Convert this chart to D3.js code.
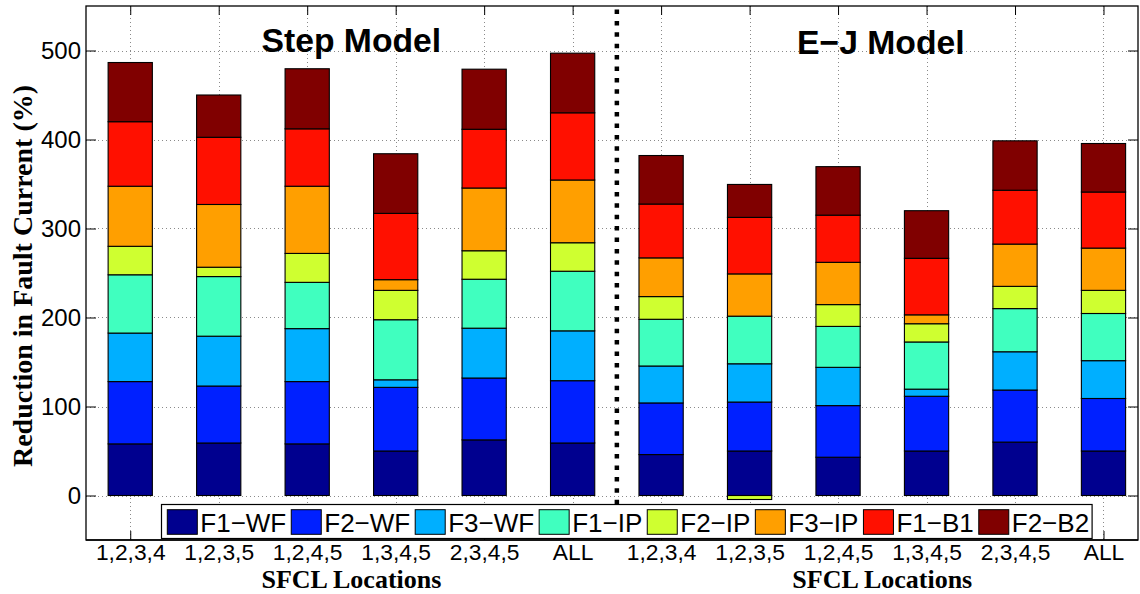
<!DOCTYPE html>
<html>
<head>
<meta charset="utf-8">
<script src="https://cdn.jsdelivr.net/npm/d3@7"></script>
<style>
  body { margin: 0; background: #fff; }
  svg { display: block; }
</style>
</head>
<body>
<script>
// ---------- DATA ----------
const categories = ["1,2,3,4","1,2,3,5","1,2,4,5","1,3,4,5","2,3,4,5","ALL",
                    "1,2,3,4","1,2,3,5","1,2,4,5","1,3,4,5","2,3,4,5","ALL"];
const seriesNames = ["F1\u2212WF","F2\u2212WF","F3\u2212WF","F1\u2212IP","F2\u2212IP","F3\u2212IP","F1\u2212B1","F2\u2212B2"];
const f1wf = [58, 59, 58, 50, 62.5, 59, 46, 50, 43, 50, 60, 50];
const f2wf = [70, 64, 70, 71.5, 69.5, 70, 58, 55, 58, 61.5, 58.5, 59];
const f3wf = [54.5, 56, 59.5, 8.5, 56, 56, 41.5, 43, 43, 8, 43, 42.5];
const f1ip = [65.5, 67, 52, 67.5, 55, 67, 52.5, 53.5, 46, 53, 48.5, 53];
const f2ip = [32, 10.5, 32.5, 33, 32, 32, 25.5, -4.5, 24.5, 20.5, 25, 26];
const f3ip = [67.5, 70.5, 75.5, 12, 70.5, 70.5, 43.5, 47.5, 47.5, 10, 47.5, 47.5];
const f1b1 = [72.5, 75.5, 64.5, 74.5, 66, 75.5, 60.5, 63.5, 53, 63.5, 60.5, 63];
const f2b2 = [66.5, 47.5, 67.5, 67, 67.5, 67, 54.5, 37, 54.5, 53.5, 55.5, 54.5];
const seriesValues = [f1wf, f2wf, f3wf, f1ip, f2ip, f3ip, f1b1, f2b2];
const yTicks = [0, 100, 200, 300, 400, 500];
const panelTitles = ["Step Model", "E\u2212J Model"];
const xLabel = "SFCL Locations";
const yLabel = "Reduction in Fault Current (%)";

// ---------- STYLE ----------
const colors = ["#00008F","#0020FF","#00AFFF","#40FFBF","#CFFF30","#FF9F00","#FF1000","#800000"];
const sans = "'Liberation Sans', Arial, Helvetica, sans-serif";
const serif = "'Liberation Serif', 'Times New Roman', serif";

const W = 1140, H = 594;
const L = 86, R = 1138, T = 6, B = 540;

const svg = d3.select("body").append("svg").attr("width", W).attr("height", H);

const x = d3.scaleLinear().domain([0.5, 12.39]).range([L, R]);
const y = d3.scaleLinear().domain([-50, 550]).range([B, T]);
const positions = d3.range(1, categories.length + 1);

// grid
const grid = svg.append("g").attr("stroke", "#8a8a8a").attr("stroke-width", 1).attr("stroke-dasharray", "1,3");
grid.selectAll("line.h").data(yTicks).join("line")
  .attr("x1", L).attr("x2", R).attr("y1", d => Math.round(y(d)) + 0.5).attr("y2", d => Math.round(y(d)) + 0.5);
grid.selectAll("line.v").data(positions).join("line")
  .attr("y1", T).attr("y2", B).attr("x1", d => Math.round(x(d)) + 0.5).attr("x2", d => Math.round(x(d)) + 0.5);

// stacked bars
const rows = categories.map((c, i) => {
  const r = { idx: i + 1, cat: c };
  seriesNames.forEach((s, j) => r[s] = seriesValues[j][i]);
  return r;
});
const stacked = d3.stack().keys(seriesNames).offset(d3.stackOffsetDiverging)(rows);
const bw = x(1.25) - x(0.75);
svg.append("g").selectAll("g").data(stacked).join("g")
  .attr("fill", (d, i) => colors[i])
  .selectAll("rect").data(d => d).join("rect")
  .attr("x", d => x(d.data.idx) - bw / 2)
  .attr("width", bw)
  .attr("y", d => y(Math.max(d[0], d[1])))
  .attr("height", d => Math.abs(y(d[0]) - y(d[1])))
  .attr("stroke", "#000").attr("stroke-width", 1.1);

// axes
const fontAxis = g => g.attr("font-family", sans).attr("font-size", 24).call(s => s.select(".domain").remove());
svg.append("g").attr("transform", `translate(${L},0)`)
  .call(d3.axisLeft(y).tickValues(yTicks).tickSize(-10).tickSizeOuter(0).tickPadding(5))
  .call(fontAxis)
  .call(g => g.selectAll("text").attr("fill", "#000"))
  .call(g => g.selectAll("line").attr("stroke", "#000"));
svg.append("g").attr("transform", `translate(${R},0)`)
  .call(d3.axisRight(y).tickValues(yTicks).tickSize(-10).tickSizeOuter(0).tickFormat(""))
  .call(fontAxis).call(g => g.selectAll("line").attr("stroke", "#000"));
svg.append("g").attr("transform", `translate(0,${T})`)
  .call(d3.axisTop(x).tickValues(positions).tickSize(-9).tickSizeOuter(0).tickFormat(""))
  .call(fontAxis).call(g => g.selectAll("line").attr("stroke", "#000"));

// box
svg.append("rect").attr("x", L).attr("y", T).attr("width", R - L).attr("height", B - T)
  .attr("fill", "none").attr("stroke", "#000").attr("stroke-width", 1.3);

// divider
svg.append("line").attr("x1", x(6.5)).attr("x2", x(6.5)).attr("y1", y(550) + 3.5).attr("y2", B)
  .attr("stroke", "#000").attr("stroke-width", 4.5).attr("stroke-dasharray", "4.5,6.9");

// titles
svg.append("text").attr("x", 261.5).attr("y", 52).text(panelTitles[0])
  .attr("font-family", sans).attr("font-weight", "bold").attr("font-size", 33.7);
svg.append("text").attr("x", 797).attr("y", 54).text(panelTitles[1])
  .attr("font-family", sans).attr("font-weight", "bold").attr("font-size", 33.7);

// bottom axis (ticks + labels)
svg.append("g").attr("transform", `translate(0,${B})`)
  .call(d3.axisBottom(x).tickValues(positions).tickSize(-9).tickSizeOuter(0).tickPadding(4)
        .tickFormat(i => categories[i - 1]))
  .call(fontAxis)
  .call(g => g.selectAll("text").attr("fill", "#000").attr("font-size", 22.8))
  .call(g => g.selectAll("line").attr("stroke", "#000"));
svg.append("line").attr("x1", L).attr("x2", R).attr("y1", B).attr("y2", B).attr("stroke", "#000").attr("stroke-width", 1.3);

// legend (drawn over the bottom ticks and divider)
const lg = svg.append("g");
const lgBox = lg.append("rect").attr("y", 504.5).attr("height", 34).attr("x", 161.5)
  .attr("fill", "#fff").attr("stroke", "#000").attr("stroke-width", 1.2);
let cx = 167.3;
seriesNames.forEach((s, i) => {
  lg.append("rect").attr("x", cx).attr("y", 509.7).attr("width", 30).attr("height", 24.6)
    .attr("fill", colors[i]).attr("stroke", "#000").attr("stroke-width", 1);
  const t = lg.append("text").attr("x", cx + 33).attr("y", 531.5).text(s)
    .attr("font-family", sans).attr("font-size", 26);
  const len = t.node().getComputedTextLength();
  cx = cx + 33 + len + (i < seriesNames.length - 1 ? 5 : 3);
});
lgBox.attr("width", cx - 161.5);

// axis labels
[[1, 6], [7, 12]].forEach(([a, b]) => {
  svg.append("text").attr("x", (x(a) + x(b)) / 2).attr("y", 588.3).attr("text-anchor", "middle")
    .attr("font-family", serif).attr("font-weight", "bold").attr("font-size", 26).text(xLabel);
});
svg.append("text").attr("transform", "translate(32,276) rotate(-90)").attr("text-anchor", "middle")
  .attr("font-family", serif).attr("font-weight", "bold").attr("font-size", 28).text(yLabel);
</script>
</body>
</html>
